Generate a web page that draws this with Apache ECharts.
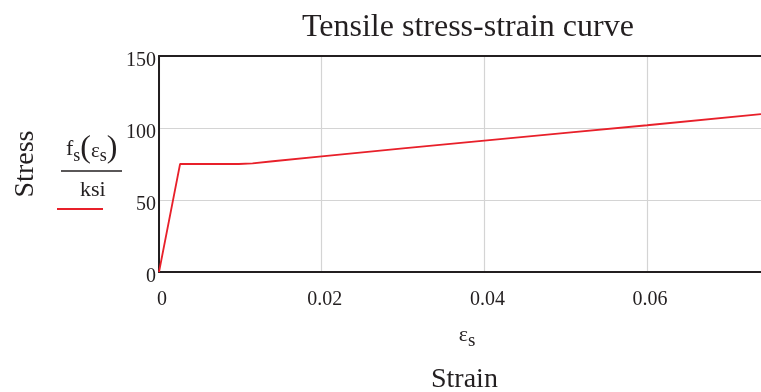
<!DOCTYPE html>
<html>
<head>
<meta charset="utf-8">
<style>
  html, body { margin: 0; padding: 0; background: #fff; }
  #chart { width: 761px; height: 392px; }
</style>
<script src="https://cdn.jsdelivr.net/npm/echarts@6/dist/echarts.min.js"></script>
</head>
<body>
<div id="chart"></div>
<script>
// Reinforcing steel tensile curve: strain (in/in) vs stress (ksi)
const strain = [0, 0.00259, 0.0098, 0.0115, 0.014, 0.02, 0.03, 0.04, 0.05, 0.06, 0.074];
const stress = [0, 75, 75, 75.5, 76.9, 80.3, 85.8, 91.2, 96.6, 101.9, 109.7];
const xTicks = [0, 0.02, 0.04, 0.06];
const yTicks = [0, 50, 100, 150];

const FONT = '"Liberation Serif", "Times New Roman", serif';
const INK = '#231f20';
const RED = '#e8202a';
const GRID = '#d4d4d4';

const chart = echarts.init(document.getElementById('chart'), null, { renderer: 'canvas' });

const points = strain.map((x, i) => [x, stress[i]]);
const xMin = xTicks[0];
const xMax = 0.074;
const xStep = xTicks[1] - xTicks[0];

chart.setOption({
  animation: false,
  backgroundColor: '#fff',
  textStyle: { fontFamily: FONT, color: INK },
  title: {
    text: 'Tensile stress-strain curve',
    left: 297,
    top: 7,
    textStyle: { fontFamily: FONT, fontWeight: 'normal', fontSize: 32, color: INK }
  },
  legend: {
    data: [{ name: 'fs', icon: 'rect' }],
    left: 57,
    top: 208,
    padding: 0,
    itemWidth: 46,
    itemHeight: 2,
    formatter: () => '',
    textStyle: { fontSize: 1 }
  },
  grid: {
    left: 159,
    right: -3,
    top: 56,
    bottom: 120,
    show: false,
    containLabel: false
  },
  xAxis: [
    {
      type: 'value',
      position: 'bottom',
      min: xMin,
      max: xMax,
      interval: xStep,
      name: '{e|ε}{s|s}',
      nameLocation: 'middle',
      nameGap: 48,
      nameTextStyle: {
        padding: [0, 0, 0, 14],
        rich: {
          e: { fontFamily: FONT, fontSize: 22, color: INK },
          s: { fontFamily: FONT, fontSize: 19, color: INK, padding: [12, 0, 0, 0] }
        }
      },
      axisLine: { show: true, onZero: false, lineStyle: { color: INK, width: 2 } },
      axisTick: { show: false },
      splitLine: { show: true, showMaxLine: false, lineStyle: { color: GRID, width: 1.2 } },
      axisLabel: {
        fontFamily: FONT,
        fontSize: 20,
        color: INK,
        margin: 18,
        padding: [0, 0, 0, 6],
        showMaxLabel: false,
        formatter: v => (xTicks.includes(+v.toFixed(4)) ? String(+v.toFixed(4)) : '')
      }
    },
    {
      // top frame edge
      type: 'value',
      position: 'top',
      min: xMin,
      max: xMax,
      interval: xStep,
      axisLine: { show: true, onZero: false, lineStyle: { color: INK, width: 2 } },
      axisTick: { show: false },
      axisLabel: { show: false },
      splitLine: { show: false }
    }
  ],
  yAxis: {
    type: 'value',
    min: yTicks[0],
    max: yTicks[yTicks.length - 1],
    interval: yTicks[1] - yTicks[0],
    name: 'Stress',
    nameLocation: 'middle',
    nameGap: 119,
    nameRotate: 90,
    nameTextStyle: { fontFamily: FONT, fontSize: 28, color: INK },
    axisLine: { show: true, onZero: false, lineStyle: { color: INK, width: 2 } },
    axisTick: { show: false },
    splitLine: { show: true, lineStyle: { color: GRID, width: 1.2 } },
    axisLabel: {
      fontFamily: FONT,
      fontSize: 20,
      color: INK,
      margin: 3,
      verticalAlign: 'top',
      lineHeight: 10
    }
  },
  series: [{
    name: 'fs',
    type: 'line',
    xAxisIndex: 0,
    data: points,
    showSymbol: false,
    symbol: 'none',
    lineStyle: { color: RED, width: 1.8 },
    itemStyle: { color: RED },
    z: 3
  }],
  graphic: [
    {
      type: 'text',
      left: 66,
      top: 133,
      style: {
        text: '{f|f}{s|s}{p|(}{e|ε}{s|s}{p|)}',
        rich: {
          f: { fontFamily: FONT, fontSize: 22, fill: INK },
          e: { fontFamily: FONT, fontSize: 21, fill: INK, padding: [4, 0, 0, 0] },
          s: { fontFamily: FONT, fontSize: 18, fill: INK, padding: [14, 0, 0, 0] },
          p: { fontFamily: FONT, fontSize: 32, fill: INK }
        }
      }
    },
    {
      type: 'line',
      shape: { x1: 61, y1: 171, x2: 122, y2: 171 },
      style: { stroke: INK, lineWidth: 1.6 }
    },
    {
      type: 'text',
      left: 80,
      top: 179,
      style: { text: 'ksi', fontFamily: FONT, fontSize: 22, fill: INK }
    },
    {
      type: 'text',
      left: 431,
      top: 366,
      style: { text: 'Strain', fontFamily: FONT, fontSize: 28, fill: INK }
    }
  ]
});
</script>
</body>
</html>
